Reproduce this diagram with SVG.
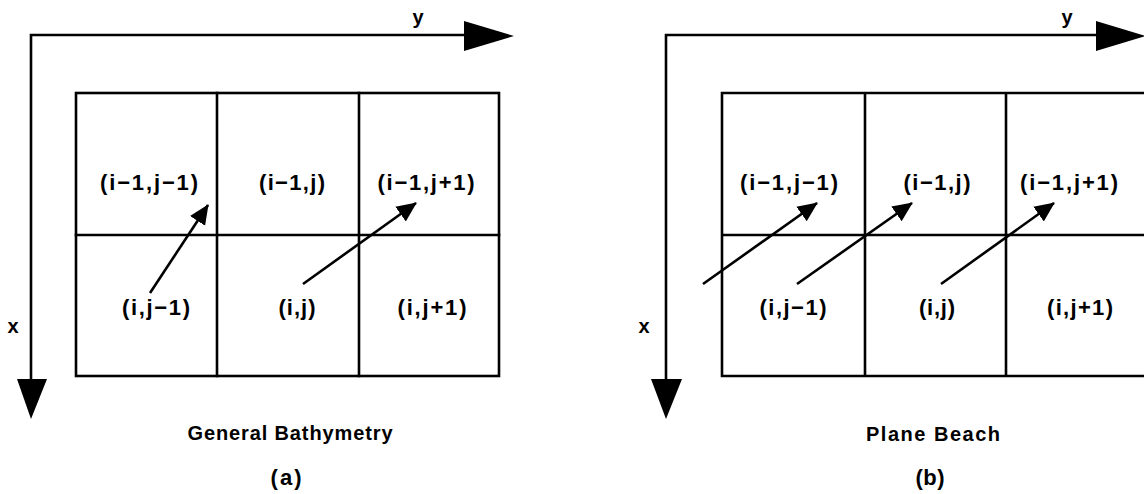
<svg xmlns="http://www.w3.org/2000/svg" width="1144" height="494" viewBox="0 0 1144 494">
<defs>
<style>
.ln{stroke:#000;stroke-width:2.6;fill:none;stroke-linecap:square}
.ar{stroke:#000;stroke-width:2.6;fill:none}
.t{font-family:"Liberation Sans","DejaVu Sans",Arial,sans-serif;font-weight:bold;font-size:22px;fill:#000;text-anchor:middle}
.c{font-size:20px}
.ax{font-size:20px}
</style>
<marker id="ah" viewBox="0 0 20 20" refX="19" refY="10" markerWidth="20" markerHeight="20" markerUnits="userSpaceOnUse" orient="auto">
<path d="M0,1 L20,10 L0,19 Z" fill="#000"/>
</marker>
</defs>
<rect width="1144" height="494" fill="#fff"/>

<g id="panel-a">
  <g id="axes-a">
    <path class="ln" d="M466,35 L31,35 L31,380"/>
    <path d="M464,21 L514,36 L464,51 Z" fill="#000"/>
    <path d="M17,379 L47,379 L31,419 Z" fill="#000"/>
    <text class="t ax" x="418" y="24">y</text>
    <text class="t ax" x="13" y="333">x</text>
  </g>
  <g id="grid-a">
    <rect class="ln" x="76" y="93" width="423" height="283"/>
    <path class="ln" d="M76,235 H499 M217,93 V376 M359,93 V376"/>
  </g>
  <g id="cell-a-im1-jm1"><text class="t" x="149" y="190" textLength="98" lengthAdjust="spacing">(i−1,j−1)</text></g>
  <g id="cell-a-im1-j"><text class="t" x="292" y="190" textLength="66" lengthAdjust="spacing">(i−1,j)</text></g>
  <g id="cell-a-im1-jp1"><text class="t" x="426" y="190" textLength="97" lengthAdjust="spacing">(i−1,j+1)</text></g>
  <g id="cell-a-i-jm1"><text class="t" x="156" y="315" textLength="68" lengthAdjust="spacing">(i,j−1)</text></g>
  <g id="cell-a-i-j"><text class="t" x="297" y="315" textLength="37" lengthAdjust="spacing">(i,j)</text></g>
  <g id="cell-a-i-jp1"><text class="t" x="432" y="315" textLength="69" lengthAdjust="spacing">(i,j+1)</text></g>
  <g id="caption-a">
    <text class="t c" x="290" y="440" textLength="205" lengthAdjust="spacing">General  Bathymetry</text>
    <text class="t" x="286" y="485" textLength="31" lengthAdjust="spacing">(a)</text>
  </g>
</g>

<g id="panel-b">
  <g id="axes-b">
    <path class="ln" d="M1098,35 L666,35 L666,380"/>
    <path d="M1096,21 L1146,36 L1096,51 Z" fill="#000"/>
    <path d="M651,379 L682,379 L666,419 Z" fill="#000"/>
    <text class="t ax" x="1067" y="24">y</text>
    <text class="t ax" x="644" y="333">x</text>
  </g>
  <g id="grid-b">
    <path class="ln" d="M1150,93 H722 V376 H1150 M722,235 H1150 M865,93 V376 M1006,93 V376"/>
  </g>
  <g id="cell-b-im1-jm1"><text class="t" x="789" y="190" textLength="98" lengthAdjust="spacing">(i−1,j−1)</text></g>
  <g id="cell-b-im1-j"><text class="t" x="937" y="190" textLength="67" lengthAdjust="spacing">(i−1,j)</text></g>
  <g id="cell-b-im1-jp1"><text class="t" x="1069" y="190" textLength="98" lengthAdjust="spacing">(i−1,j+1)</text></g>
  <g id="cell-b-i-jm1"><text class="t" x="793" y="315" textLength="67" lengthAdjust="spacing">(i,j−1)</text></g>
  <g id="cell-b-i-j"><text class="t" x="937" y="315" textLength="36" lengthAdjust="spacing">(i,j)</text></g>
  <g id="cell-b-i-jp1"><text class="t" x="1080" y="315" textLength="66" lengthAdjust="spacing">(i,j+1)</text></g>
  <g id="caption-b">
    <text class="t c" x="933" y="441" textLength="134" lengthAdjust="spacing">Plane  Beach</text>
    <text class="t" x="930" y="485" textLength="29" lengthAdjust="spacing">(b)</text>
  </g>
</g>

<g id="connectors">
  <line class="ar" x1="150" y1="293" x2="208" y2="205" marker-end="url(#ah)"/>
  <line class="ar" x1="303" y1="284" x2="416" y2="203" marker-end="url(#ah)"/>
  <line class="ar" x1="703" y1="284" x2="817" y2="203" marker-end="url(#ah)"/>
  <line class="ar" x1="797" y1="284" x2="912" y2="203" marker-end="url(#ah)"/>
  <line class="ar" x1="941" y1="284" x2="1054" y2="203" marker-end="url(#ah)"/>
</g>
</svg>
